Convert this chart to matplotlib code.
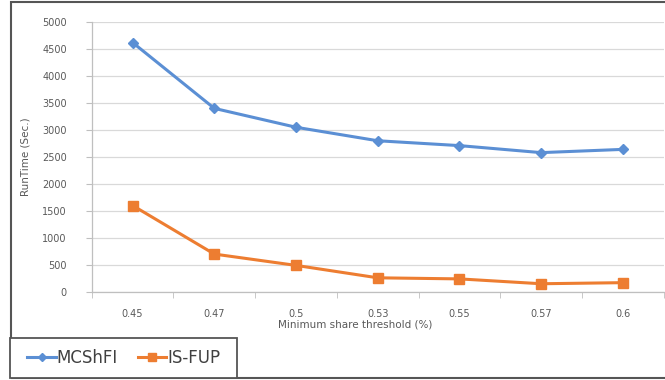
import numpy as np
import matplotlib.pyplot as plt
from matplotlib.patches import Rectangle

plt.rcParams['font.family'] = 'DejaVu Sans'

thresholds = ['0.45', '0.47', '0.5', '0.53', '0.55', '0.57', '0.6']
mcshfi = [4620, 3400, 3050, 2800, 2710, 2580, 2640]
is_fup = [1600, 700, 490, 260, 240, 150, 170]

text_color = '#595959'
grid_color = '#d9d9d9'

fig = plt.figure(figsize=(6.65, 3.8), dpi=100)
ax = fig.add_axes([0.138, 0.232, 0.86, 0.71])

x = np.arange(len(thresholds))
ax.plot(x, mcshfi, color='#5b8fd4', lw=2.2, marker='D', ms=5,
        label='MCShFI')
ax.plot(x, is_fup, color='#ed7d31', lw=2.2, marker='s', ms=7,
        label='IS-FUP')

ax.set_xlim(-0.5, len(thresholds) - 0.5)
ax.set_ylim(0, 5000)
ax.set_yticks(np.arange(0, 5001, 500))
ax.set_xticks(x)
ax.set_xticklabels(thresholds)
ax.set_xticks(np.arange(-0.5, len(thresholds)), minor=True)

ax.grid(axis='y', color=grid_color, lw=0.9)
ax.set_axisbelow(True)
for side in ['top', 'right']:
    ax.spines[side].set_visible(False)
for side in ['left', 'bottom']:
    ax.spines[side].set_color('#bfbfbf')
    ax.spines[side].set_linewidth(0.9)

ax.tick_params(axis='x', which='major', length=0, pad=12,
               labelsize=7, labelcolor=text_color)
ax.tick_params(axis='x', which='minor', length=4, color='#bfbfbf')
ax.tick_params(axis='y', length=4, color='#bfbfbf', pad=14,
               labelsize=7, labelcolor=text_color)

ax.set_ylabel('RunTime (Sec.)', fontsize=7.5, color=text_color, labelpad=8)
fig.text(0.534, 0.145, 'Minimum share threshold (%)', fontsize=7.5,
         color=text_color, ha='center', va='center')

# outer chart frame
fig.patches.append(Rectangle((0.016, 0.005), 1.0, 0.99,
                             transform=fig.transFigure, fill=False,
                             edgecolor='#555555', lw=1.5))

# legend box in the lower-left corner
leg_box = (0.015, 0.005, 0.342, 0.105)
fig.patches.append(Rectangle(leg_box[:2], leg_box[2], leg_box[3],
                             transform=fig.transFigure, facecolor='white',
                             edgecolor='#555555', lw=1.3, zorder=3))
leg = fig.legend(loc='center', bbox_to_anchor=leg_box, ncol=2, fontsize=12,
                 frameon=False, handlelength=1.7, handletextpad=0.05,
                 borderaxespad=0, columnspacing=1.2, markerscale=0.8)
leg.set_zorder(4)
for t in leg.get_texts():
    t.set_color('#404040')

plt.savefig('out.png', dpi=100)
